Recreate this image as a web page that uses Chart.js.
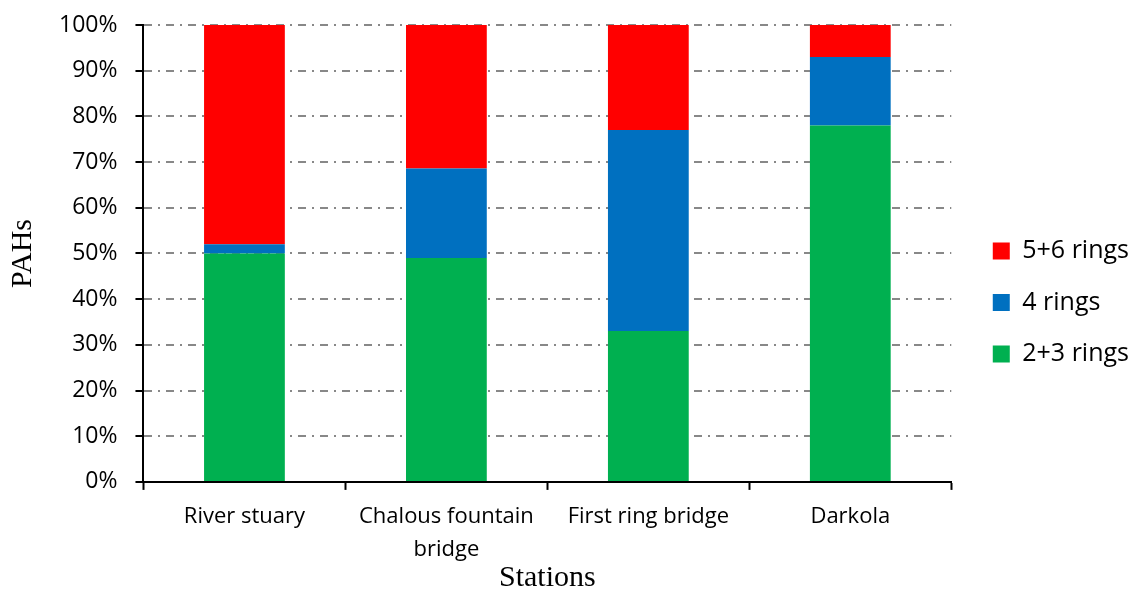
<!DOCTYPE html>
<html>
<head>
<meta charset="utf-8">
<script src="https://cdn.jsdelivr.net/npm/chart.js@4.4.0/dist/chart.umd.min.js"></script>
<style>
  html, body { margin: 0; padding: 0; background: #fff; }
  #wrap { width: 1129px; height: 590px; }
</style>
</head>
<body>
<div id="wrap"><canvas id="myChart"></canvas></div>
<script>
// stations and ring shares (percent)
var stations = ["River stuary", ["Chalous fountain", "bridge"], "First ring bridge", "Darkola"];
var rings23 = [50, 49, 33, 78];
var rings4 = [2, 19.6, 44, 15];
var rings56 = [48, 31.4, 23, 7];
var yTicks = [0, 10, 20, 30, 40, 50, 60, 70, 80, 90, 100];

new Chart("myChart", {
  type: "bar",
  data: {
    labels: stations,
    datasets: [
      { label: "2+3 rings", data: rings23, backgroundColor: "#00B050" },
      { label: "4 rings", data: rings4, backgroundColor: "#0070C0" },
      { label: "5+6 rings", data: rings56, backgroundColor: "#FF0000" }
    ]
  },
  options: {
    responsive: true,
    maintainAspectRatio: false,
    animation: false,
    layout: { padding: { top: 25, right: 2, left: 8, bottom: 0 } },
    datasets: { bar: { barPercentage: 0.4, categoryPercentage: 1.0 } },
    plugins: {
      tooltip: { enabled: false },
      legend: {
        position: "right",
        reverse: true,
        labels: {
          color: "#000",
          font: { family: "'Open Sans'", size: 25 },
          boxWidth: 17,
          boxHeight: 17,
          padding: 26.5
        }
      }
    },
    scales: {
      x: {
        stacked: true,
        grid: { drawOnChartArea: false, tickLength: 8, tickColor: "#000", tickWidth: 2 },
        border: { color: "#000", width: 2 },
        ticks: { color: "#000", font: { family: "'Open Sans'", size: 22, lineHeight: 1.5 }, padding: 10, maxRotation: 0 },
        title: { display: true, text: "Stations", color: "#000", font: { family: "'Liberation Serif'", size: 30, lineHeight: 0.47 }, padding: { top: -5, bottom: 5 } }
      },
      y: {
        stacked: true,
        min: 0,
        max: 100,
        afterBuildTicks: function (axis) {
          axis.ticks = yTicks.map(function (v) { return { value: v }; });
        },
        afterFit: function (axis) {
          axis.paddingTop = 0;
          axis.paddingBottom = 0;
        },
        grid: { color: "#888", lineWidth: 2, tickLength: 8, tickColor: "#000", tickWidth: 2 },
        border: { color: "#000", width: 2, dash: [8, 6, 2, 6] },
        ticks: {
          color: "#000",
          font: { family: "'Open Sans'", size: 23 },
          padding: 18,
          callback: function (v) { return v + "%"; }
        },
        title: { display: true, text: "PAHs", color: "#000", font: { family: "'Liberation Serif'", size: 30, lineHeight: 1.0 }, padding: { top: 0, bottom: 3 } }
      }
    }
  },
  plugins: [{
    id: "legendGap",
    beforeInit: function (chart) {
      var origFit = chart.legend.fit;
      chart.legend.fit = function () {
        origFit.bind(chart.legend)();
        this.width += 3;
      };
    },
    afterLayout: function (chart) {
      chart.legend.left += 15;
      chart.legend.right += 15;
      chart.legend.top -= 5;
      chart.legend.bottom -= 5;
    }
  }]
});
</script>
</body>
</html>
